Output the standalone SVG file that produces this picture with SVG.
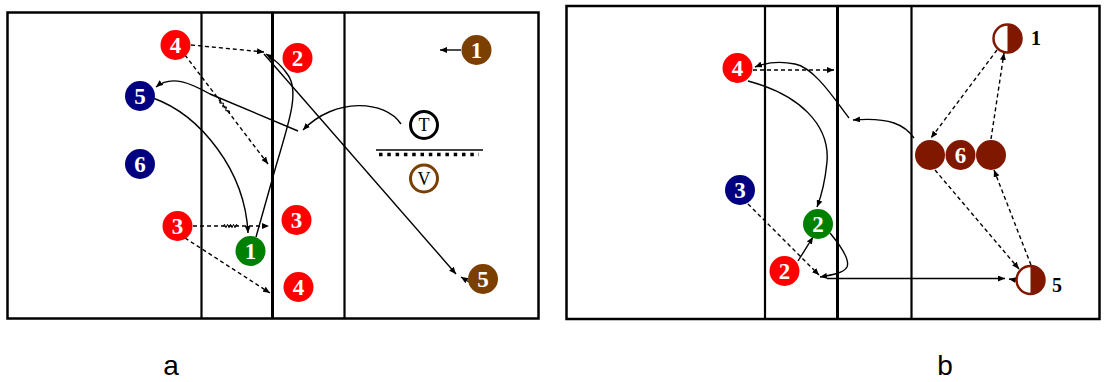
<svg xmlns="http://www.w3.org/2000/svg" width="1104" height="382" viewBox="0 0 1104 382">
<style>
.court{fill:none;stroke:#000;stroke-width:2.5}
.ln{stroke:#000;stroke-width:2.2}
.ln3{stroke:#000;stroke-width:3}
.c{fill:none;stroke:#000;stroke-width:1.4}
.d{fill:none;stroke:#000;stroke-width:1.4;stroke-dasharray:4 3}
.zz{fill:none;stroke:#000;stroke-width:1}
.num{font-family:"Liberation Serif","Times New Roman",serif;font-weight:bold;font-size:23px;fill:#fff;text-anchor:middle}
.lbl{font-family:"Liberation Serif","Times New Roman",serif;font-weight:bold;font-size:20px;fill:#000}
.tv{font-family:"Liberation Serif","Times New Roman",serif;font-size:18px;fill:#000;text-anchor:middle}
.cap{font-family:"Liberation Sans",Arial,sans-serif;font-size:28px;fill:#000;text-anchor:middle}
.red{fill:#ff0000}.blue{fill:#000080}.green{fill:#008000}.brown{fill:#7b3f00}.dk{fill:#801800}
</style>
<defs>
<marker id="ah" markerUnits="userSpaceOnUse" markerWidth="8" markerHeight="6" refX="7" refY="3" orient="auto">
<path d="M0,0 L7,3 L0,6 z" fill="#000"/>
</marker>
</defs>
<rect width="1104" height="382" fill="#fff"/>
<g id="court-a">
<rect class="court" x="7.5" y="12.5" width="531" height="306"/>
<line class="ln" x1="201.5" y1="12.5" x2="201.5" y2="318.5"/>
<line class="ln3" x1="272.5" y1="12.5" x2="272.5" y2="318.5"/>
<line class="ln" x1="344.5" y1="12.5" x2="344.5" y2="318.5"/>
</g>
<g id="court-b">
<rect class="court" x="566.5" y="6" width="533" height="313"/>
<line class="ln" x1="765" y1="6" x2="765" y2="319"/>
<line class="ln3" x1="837.5" y1="6" x2="837.5" y2="319"/>
<line class="ln" x1="911.5" y1="6" x2="911.5" y2="319"/>
</g>
<g id="connectors">
<path class="d" d="M191,45 L264,52" marker-end="url(#ah)"/>
<path class="d" d="M185,55 L268,164" marker-end="url(#ah)"/>
<polyline class="zz" points="218.0,98.4 220.7,99.4 219.7,103.1 223.6,103.2 222.6,106.9 226.5,107.0 225.6,110.7 229.4,110.9 229.7,113.7"/>
<path class="d" d="M193,226 L269,226" marker-end="url(#ah)"/>
<polyline class="zz" points="223,226 224.5,224.3 226,227.7 227.5,224.3 229,227.7 230.5,224.3 232,227.7 233.5,224.3 235,227.7 236.5,224.3 238,226"/>
<path class="d" d="M185,238 L270,293" marker-end="url(#ah)"/>
<path class="c" d="M264,54 L456,274" marker-end="url(#ah)"/>
<path class="c" d="M256,237 L276,166 C288,125 300,92 288,75 C282,66 274,59 266,54" marker-end="url(#ah)"/>
<path class="c" d="M153,98 C200,115 245,170 248,233" marker-end="url(#ah)"/>
<path class="c" d="M401,124 C385,100 335,97 303,130" marker-end="url(#ah)"/>
<path class="c" d="M298,131 L210,94 C192,84 172,74 156,87" marker-end="url(#ah)"/>
<path class="c" d="M461,50 L440,50" marker-end="url(#ah)"/>
<path class="c" d="M469,282 L461,277" marker-end="url(#ah)"/>
<path class="d" d="M753,70 L834,70" marker-end="url(#ah)"/>
<path class="c" d="M748,81 C800,95 830,125 827,162 C825,182 821,197 817,207" marker-end="url(#ah)"/>
<path class="c" d="M914,138 C905,125 890,117 853,120" marker-end="url(#ah)"/>
<path class="c" d="M849,118 C835,100 815,68 795,64 C780,61 765,63 755,67" marker-end="url(#ah)"/>
<path class="c" d="M798,261 L813,237" marker-end="url(#ah)"/>
<path class="c" d="M830,233 C840,245 850,260 847,267 C844,273 832,275 820,277" marker-end="url(#ah)"/>
<path class="d" d="M748,204 L819,275" marker-end="url(#ah)"/>
<path class="c" d="M827,278.5 L1005,278.5" marker-end="url(#ah)"/>
<path class="c" d="M1015,280 L1009,279" marker-end="url(#ah)"/>
<path class="d" d="M997,50 L931,138" marker-end="url(#ah)"/>
<path class="d" d="M991,139 L1004,53" marker-end="url(#ah)"/>
<path class="d" d="M935,170 L1019,269" marker-end="url(#ah)"/>
<path class="d" d="M1031,265 L994,170" marker-end="url(#ah)"/>
</g>
<g id="a-red4-top"><circle class="red" cx="175.5" cy="45" r="15"/><text class="num" x="175.5" y="53">4</text></g>
<g id="a-red2"><circle class="red" cx="297.5" cy="58" r="15"/><text class="num" x="297.5" y="66">2</text></g>
<g id="a-blue5"><circle class="blue" cx="140" cy="96" r="15"/><text class="num" x="140" y="104">5</text></g>
<g id="a-blue6"><circle class="blue" cx="140" cy="164" r="15"/><text class="num" x="140" y="172">6</text></g>
<g id="a-red3-left"><circle class="red" cx="177.5" cy="226" r="15"/><text class="num" x="177.5" y="234">3</text></g>
<g id="a-green1"><circle class="green" cx="250.5" cy="251" r="15"/><text class="num" x="250.5" y="259">1</text></g>
<g id="a-red3-right"><circle class="red" cx="296.5" cy="220" r="15"/><text class="num" x="296.5" y="228">3</text></g>
<g id="a-red4-bottom"><circle class="red" cx="298.5" cy="287" r="15"/><text class="num" x="298.5" y="295">4</text></g>
<g id="a-brown1"><circle class="brown" cx="476.5" cy="50" r="15"/><text class="num" x="476.5" y="58">1</text></g>
<g id="a-brown5"><circle class="brown" cx="483" cy="279" r="15"/><text class="num" x="483" y="287">5</text></g>
<g id="a-T"><circle cx="424" cy="125" r="13.5" fill="#fff" stroke="#000" stroke-width="3"/><text class="tv" x="424" y="131">T</text></g>
<g id="a-net">
<line x1="376" y1="150" x2="483" y2="150" stroke="#000" stroke-width="1.3"/>
<line x1="379" y1="154.5" x2="479" y2="154.5" stroke="#000" stroke-width="3.5" stroke-dasharray="3.5 4.8"/>
</g>
<g id="a-V"><circle cx="424" cy="178.5" r="13.5" fill="#fff" stroke="#7b3f00" stroke-width="3"/><text class="tv" x="424" y="184.5">V</text></g>
<g id="b-red4"><circle class="red" cx="737.5" cy="68" r="15"/><text class="num" x="737.5" y="76">4</text></g>
<g id="b-blue3"><circle class="blue" cx="740" cy="190" r="15"/><text class="num" x="740" y="198">3</text></g>
<g id="b-green2"><circle class="green" cx="818" cy="224" r="15"/><text class="num" x="818" y="232">2</text></g>
<g id="b-red2"><circle class="red" cx="784.5" cy="271" r="15"/><text class="num" x="784.5" y="279">2</text></g>
<g id="b-6">
<circle class="dk" cx="930" cy="155" r="15"/>
<circle class="dk" cx="991" cy="155" r="15"/>
<circle class="dk" cx="960.5" cy="155" r="15"/>
<text class="num" x="960.5" y="163">6</text>
</g>
<g id="b-half1">
<circle cx="1007.5" cy="38.5" r="14" fill="#fff" stroke="#801800" stroke-width="2.5"/>
<path d="M1007.5,24.5 A14,14 0 0 1 1007.5,52.5 Z" fill="#801800"/>
<text class="lbl" x="1031" y="45">1</text>
</g>
<g id="b-half5">
<circle cx="1030.5" cy="280" r="14" fill="#fff" stroke="#801800" stroke-width="2.5"/>
<path d="M1030.5,266 A14,14 0 0 1 1030.5,294 Z" fill="#801800"/>
<text class="lbl" x="1052" y="292">5</text>
</g>
<g id="captions">
<text class="cap" x="171" y="375">a</text>
<text class="cap" x="945" y="375">b</text>
</g>
</svg>
